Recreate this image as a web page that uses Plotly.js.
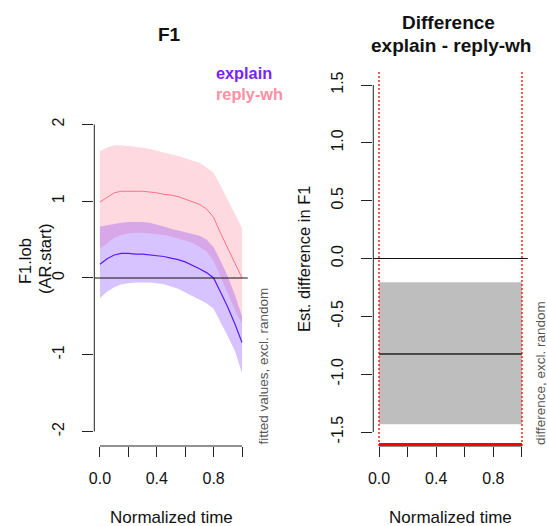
<!DOCTYPE html>
<html>
<head>
<meta charset="utf-8">
<script src="https://cdn.plot.ly/plotly-3.0.1.min.js"></script>
<style>html,body{margin:0;padding:0;background:#fff;}#chart{width:547px;height:526px;}</style>
</head>
<body>
<div id="chart"></div>
<script>
// ---------- data ----------
const time = [0,0.05,0.1,0.15,0.2,0.25,0.3,0.35,0.4,0.45,0.5,0.55,0.6,0.65,0.7,0.75,0.8,0.85,0.9,0.95,1];
const groups = ["explain", "reply-wh"];
const explainFit   = [0.18,0.25,0.30,0.32,0.32,0.31,0.31,0.30,0.29,0.28,0.26,0.24,0.21,0.17,0.12,0.07,0.00,-0.19,-0.38,-0.60,-0.84];
const explainUpper = [0.67,0.69,0.71,0.72,0.73,0.73,0.73,0.72,0.70,0.67,0.64,0.62,0.60,0.58,0.55,0.50,0.40,0.22,0.02,-0.22,-0.50];
const explainLower = [-0.26,-0.18,-0.12,-0.08,-0.07,-0.06,-0.06,-0.06,-0.07,-0.08,-0.11,-0.14,-0.18,-0.23,-0.28,-0.33,-0.40,-0.57,-0.76,-0.95,-1.24];
const replyFit   = [0.99,1.05,1.11,1.13,1.13,1.13,1.13,1.12,1.11,1.09,1.08,1.06,1.03,1.00,0.96,0.90,0.79,0.58,0.39,0.20,0.00];
const replyUpper = [1.65,1.70,1.73,1.73,1.72,1.71,1.70,1.68,1.66,1.64,1.62,1.59,1.56,1.53,1.50,1.44,1.37,1.20,1.02,0.85,0.65];
const replyLower = [0.38,0.45,0.52,0.56,0.58,0.59,0.59,0.58,0.57,0.56,0.54,0.52,0.49,0.46,0.41,0.35,0.22,0.02,-0.20,-0.42,-0.60];

const diffTime  = [0, 1];
const diffFit   = [-0.826, -0.826];
const diffUpper = [-0.206, -0.206];
const diffLower = [-1.434, -1.434];
const sigStart = 0, sigEnd = 1;

const timeTicks = [0,0.2,0.4,0.6,0.8,1.0];
const timeTickLabels = ["0.0","","0.4","","0.8",""];
const leftTicks = [-2,-1,0,1,2];
const leftTickLabels = ["-2","-1","0","1","2"];
const rightTicks = [-1.5,-1,-0.5,0,0.5,1,1.5];
const rightTickLabels = ["-1.5","-1.0","-0.5","0.0","0.5","1.0","1.5"];

// ---------- geometry ----------
const W = 547, H = 526;
const FONT = "Liberation Sans, Arial, sans-serif";
const PX = x => x / W, PY = y => 1 - y / H;
const xDomL = [PX(94.3), PX(247.7)], xDomR = [PX(373.3), PX(527.7)];
const yDom = [PY(446), PY(71)];
const xRange = [-0.04, 1.04];
const yRangeL = [-2.189, 2.697];
const yRangeR = [-1.621, 1.621];
const toP = (v, dom, rng) => dom[0] + (v - rng[0]) / (rng[1] - rng[0]) * (dom[1] - dom[0]);

const pinkBand = "rgba(255,0,50,0.15)";
const blueBand = "rgba(110,40,255,0.28)";
const pinkLine = "#ff6f88";
const blueLine = "#5a1aff";

function band(x, lo, hi, color, xa, ya) {
  return {x: x.concat(x.slice().reverse()), y: hi.concat(lo.slice().reverse()),
    type: "scatter", mode: "lines", fill: "toself", fillcolor: color,
    line: {width: 0}, hoverinfo: "skip", showlegend: false, xaxis: xa, yaxis: ya};
}
function line(x, y, color, w, xa, ya) {
  return {x: x, y: y, type: "scatter", mode: "lines", line: {color: color, width: w},
    showlegend: false, xaxis: xa, yaxis: ya};
}

const traces = [
  band(time, replyLower, replyUpper, pinkBand, "x", "y"),
  band(time, explainLower, explainUpper, blueBand, "x", "y"),
  line(time, replyFit, pinkLine, 1, "x", "y"),
  line(time, explainFit, blueLine, 1.2, "x", "y"),
  band(diffTime, diffLower, diffUpper, "#bebebe", "x2", "y2"),
  line(diffTime, diffFit, "#222", 1.5, "x2", "y2")
];

const axisCol = "#222";
function xa(dom, anchor) {
  return {domain: dom, range: xRange, anchor: anchor, tickmode: "array", tickvals: timeTicks,
    ticktext: timeTickLabels, ticks: "outside", ticklen: 10, tickwidth: 1, tickcolor: axisCol,
    showline: false, showgrid: false, zeroline: false, ticklabelstandoff: 8,
    tickfont: {family: FONT, size: 16, color: "#111"}};
}
function ya(rng, anchor, tv, tt) {
  return {domain: yDom, range: rng, anchor: anchor, tickmode: "array", tickvals: tv, ticktext: tt,
    ticks: "outside", ticklen: 11, tickwidth: 1, tickcolor: axisCol, tickangle: -90,
    showline: false, showgrid: false, zeroline: false, ticklabelstandoff: 12,
    tickfont: {family: FONT, size: 16, color: "#111"}};
}

function seg(x0, y0, x1, y1, color, width, dash) {
  return {type: "line", xref: "paper", yref: "paper", x0: x0, y0: y0, x1: x1, y1: y1,
    line: {color: color, width: width, dash: dash || "solid"}, layer: "above"};
}
const shapes = [
  // left axes
  seg(xDomL[0], toP(-2, yDom, yRangeL), xDomL[0], toP(2, yDom, yRangeL), axisCol, 1),
  seg(toP(0, xDomL, xRange), yDom[0], toP(1, xDomL, xRange), yDom[0], axisCol, 1),
  seg(xDomL[0], toP(0, yDom, yRangeL), xDomL[1], toP(0, yDom, yRangeL), "#111", 1.2),
  // right axes
  seg(xDomR[0], toP(-1.5, yDom, yRangeR), xDomR[0], toP(1.5, yDom, yRangeR), axisCol, 1),
  seg(toP(0, xDomR, xRange), yDom[0], toP(1, xDomR, xRange), yDom[0], axisCol, 1),
  seg(xDomR[0], toP(0, yDom, yRangeR), xDomR[1], toP(0, yDom, yRangeR), "#111", 1.2),
  // significance markers
  seg(toP(sigStart, xDomR, xRange), yDom[0], toP(sigStart, xDomR, xRange), yDom[1], "red", 1.3, "2px,2px"),
  seg(toP(sigEnd, xDomR, xRange), yDom[0], toP(sigEnd, xDomR, xRange), yDom[1], "red", 1.3, "2px,2px"),
  seg(toP(sigStart, xDomR, xRange), yDom[0] + 1.5 / H, toP(sigEnd, xDomR, xRange), yDom[0] + 1.5 / H, "red", 3)
];

function ann(text, x, y, opts) {
  return Object.assign({text: text, x: PX(x), y: PY(y), xref: "paper", yref: "paper",
    showarrow: false, xanchor: "center", yanchor: "middle",
    font: {family: FONT, size: 16, color: "#111"}}, opts || {});
}
const annotations = [
  ann("<b>F1</b>", 169, 35, {font: {family: FONT, size: 19, color: "#111"}}),
  ann("<b>Difference</b>", 448, 22, {font: {family: FONT, size: 19, color: "#111"}}),
  ann("<b>explain - reply-wh</b>", 451, 45, {font: {family: FONT, size: 19, color: "#111"}}),
  ann("<b>" + groups[0] + "</b>", 214, 73, {xanchor: "left", font: {family: FONT, size: 16.3, color: "#7a1fff"}}),
  ann("<b>" + groups[1] + "</b>", 214, 94, {xanchor: "left", font: {family: FONT, size: 16.3, color: "#ff8fa3"}}),
  ann("Normalized time", 171, 517, {font: {family: FONT, size: 17, color: "#111"}}),
  ann("Normalized time", 450.5, 517, {font: {family: FONT, size: 17, color: "#111"}}),
  ann("F1.lob", 25, 261, {textangle: -90, font: {family: FONT, size: 16.5, color: "#111"}}),
  ann("(AR.start)", 45, 259, {textangle: -90, font: {family: FONT, size: 16.5, color: "#111"}}),
  ann("Est. difference in F1", 304, 259, {textangle: -90, font: {family: FONT, size: 16.5, color: "#111"}}),
  ann("fitted values, excl. random", 263, 447, {textangle: -90, yanchor: "bottom", font: {family: FONT, size: 13.5, color: "#555"}}),
  ann("difference, excl. random", 540, 447, {textangle: -90, yanchor: "bottom", font: {family: FONT, size: 13.5, color: "#555"}})
];

const layout = {
  width: W, height: H, margin: {l: 0, r: 0, t: 0, b: 0},
  paper_bgcolor: "#fff", plot_bgcolor: "rgba(0,0,0,0)", showlegend: false,
  xaxis: xa(xDomL, "y"), yaxis: ya(yRangeL, "x", leftTicks, leftTickLabels),
  xaxis2: xa(xDomR, "y2"), yaxis2: ya(yRangeR, "x2", rightTicks, rightTickLabels),
  shapes: shapes, annotations: annotations
};
Plotly.newPlot("chart", traces, layout, {staticPlot: true, displayModeBar: false});
</script>
</body>
</html>
